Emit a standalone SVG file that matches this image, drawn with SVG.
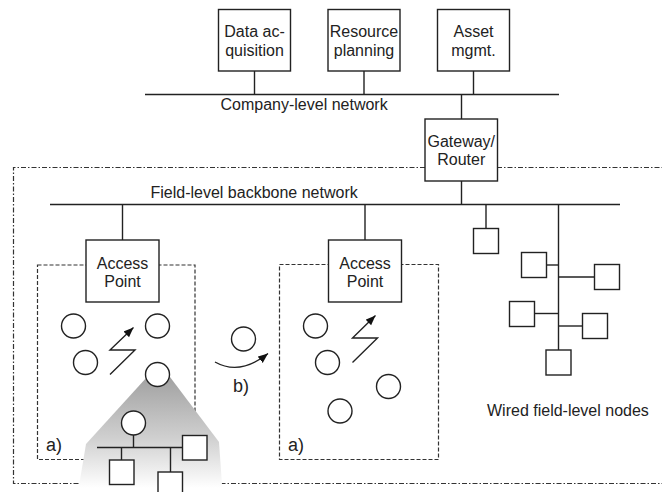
<svg xmlns="http://www.w3.org/2000/svg" width="662" height="492" viewBox="0 0 662 492">
<style>
.b{fill:#fff;stroke:#222;stroke-width:1.4}
.l{fill:none;stroke:#222;stroke-width:1.4}
.dd{fill:none;stroke:#333;stroke-width:1.2;stroke-dasharray:5 2 1.5 2}
.ds{fill:none;stroke:#333;stroke-width:1.2;stroke-dasharray:4 2}
.c{fill:#fff;stroke:#222;stroke-width:1.4}
text{font-family:"Liberation Sans",Arial,sans-serif;font-size:16px;fill:#222}
.m{text-anchor:middle}
.lab{font-size:18px}
</style>
<defs>
<marker id="ah" markerUnits="userSpaceOnUse" markerWidth="12" markerHeight="10" refX="10" refY="4" orient="auto">
<path d="M0,0 L10,4 L0,8 z" fill="#111"/>
</marker>
<linearGradient id="g" gradientUnits="userSpaceOnUse" x1="0" y1="378" x2="0" y2="488">
<stop offset="0" stop-color="#a2a2a2"/>
<stop offset="0.55" stop-color="#d0d0d0"/>
<stop offset="1" stop-color="#ffffff"/>
</linearGradient>
</defs>

<g id="field-area">
<path class="dd" d="M425,167.5 H13.5 V483.5 H670"/>
<path class="dd" d="M497,167.5 H670"/>
<rect id="cell1" class="ds" x="37.5" y="265" width="157.5" height="194.5"/>
<rect id="cell2" class="ds" x="279.5" y="264.5" width="159" height="195"/>
</g>

<g id="connectors">
<line class="l" x1="145" y1="94.5" x2="559" y2="94.5"/>
<line class="l" x1="254.5" y1="71" x2="254.5" y2="94.5"/>
<line class="l" x1="364" y1="71" x2="364" y2="94.5"/>
<line class="l" x1="473.5" y1="71" x2="473.5" y2="94.5"/>
<line class="l" x1="461.5" y1="94.5" x2="461.5" y2="119"/>
<line class="l" x1="461.5" y1="181" x2="461.5" y2="204.5"/>
<line class="l" x1="50" y1="204.5" x2="620" y2="204.5"/>
<line class="l" x1="122.5" y1="204.5" x2="122.5" y2="240"/>
<line class="l" x1="365" y1="204.5" x2="365" y2="240"/>
<line class="l" x1="486" y1="204.5" x2="486" y2="228.5"/>
<line class="l" x1="558.5" y1="204.5" x2="558.5" y2="350"/>
<line class="l" x1="546.5" y1="265" x2="558.5" y2="265"/>
<line class="l" x1="558.5" y1="277" x2="594.5" y2="277"/>
<line class="l" x1="534.5" y1="313.5" x2="558.5" y2="313.5"/>
<line class="l" x1="558.5" y1="326" x2="582.5" y2="326"/>
<path class="l" d="M110,374.5 L135,350 L110,350 L133.5,327.5" marker-end="url(#ah)"/>
<path class="l" d="M352.5,362.5 L377.5,338 L352.5,338 L375.5,315.5" marker-end="url(#ah)"/>
<path class="l" d="M215,362 Q240,376 268,353.5" marker-end="url(#ah)"/>
</g>

<g id="data-acquisition"><rect class="b" x="218.5" y="9.5" width="72" height="61.5"/><text class="m" x="254.5" y="37">Data ac-</text><text class="m" x="254.5" y="55.5">quisition</text></g>
<g id="resource-planning"><rect class="b" x="328" y="9.5" width="72" height="61.5"/><text class="m" x="364" y="37">Resource</text><text class="m" x="364" y="55.5">planning</text></g>
<g id="asset-mgmt"><rect class="b" x="437.5" y="9.5" width="72" height="61.5"/><text class="m" x="473.5" y="37">Asset</text><text class="m" x="473.5" y="55.5">mgmt.</text></g>
<text x="220.5" y="110">Company-level network</text>
<g id="gateway"><rect class="b" x="425" y="119" width="72.5" height="62"/><text class="m" x="461.25" y="146.5">Gateway/</text><text class="m" x="461.25" y="165">Router</text></g>
<text x="150.5" y="198">Field-level backbone network</text>

<g id="access-point-1"><rect class="b" x="86" y="240" width="73" height="62"/><text class="m" x="122.5" y="268.5">Access</text><text class="m" x="122.5" y="287">Point</text></g>
<g id="access-point-2"><rect class="b" x="328.5" y="240" width="73" height="62"/><text class="m" x="365" y="268.5">Access</text><text class="m" x="365" y="287">Point</text></g>

<g id="zoom-detail">
<polygon points="147,377 170,377 219,442 222.5,492 78,492 86,444" fill="url(#g)"/>
<line class="l" x1="133.5" y1="435" x2="133.5" y2="447.5"/>
<line class="l" x1="97" y1="447.5" x2="182.5" y2="447.5"/>
<line class="l" x1="121.5" y1="447.5" x2="121.5" y2="460"/>
<line class="l" x1="170.5" y1="447.5" x2="170.5" y2="472"/>
<circle class="c" cx="133.5" cy="423" r="12"/>
<rect class="b" x="182.5" y="435.5" width="24.5" height="24.5"/>
<rect class="b" x="109.5" y="460" width="24.5" height="24.5"/>
<rect class="b" x="158" y="472" width="24.5" height="24.5"/>
</g>

<g id="wireless-nodes-1">
<circle class="c" cx="73.5" cy="326" r="12"/>
<circle class="c" cx="157.5" cy="326" r="12"/>
<circle class="c" cx="85.5" cy="362.5" r="12"/>
<circle class="c" cx="157.5" cy="374.5" r="12"/>
</g>
<g id="wireless-nodes-2">
<circle class="c" cx="315.5" cy="326" r="12"/>
<circle class="c" cx="327.5" cy="362.5" r="12"/>
<circle class="c" cx="388.5" cy="386.5" r="12"/>
<circle class="c" cx="340" cy="411" r="12"/>
</g>
<g id="moving-node"><circle class="c" cx="243.5" cy="339" r="12"/></g>

<g id="wired-nodes">
<rect class="b" x="473.5" y="228.5" width="25" height="25"/>
<rect class="b" x="521.5" y="252.5" width="25" height="25"/>
<rect class="b" x="594.5" y="264.5" width="25" height="25"/>
<rect class="b" x="509.5" y="301.5" width="25" height="25"/>
<rect class="b" x="582.5" y="313.5" width="25" height="25"/>
<rect class="b" x="546" y="350" width="25" height="25"/>
</g>

<text class="lab" x="46" y="450.5">a)</text>
<text class="lab" x="288" y="450.5">a)</text>
<text class="lab" x="233" y="392">b)</text>
<text x="487" y="415.5">Wired field-level nodes</text>
</svg>
